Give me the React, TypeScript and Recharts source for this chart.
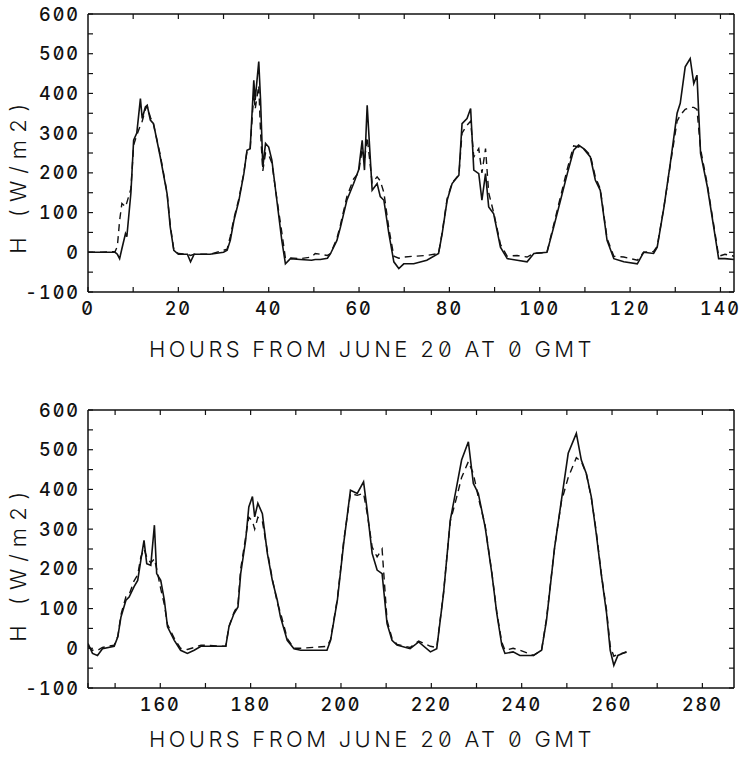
import { Label, Line, LineChart, XAxis, YAxis } from "recharts";

const FONT = "Inter, sans-serif";
const FONT_FEATURES = '"zero" 1, "tnum" 1';
const INK = "#111";

// hours from June 20 at 0 GMT, upper panel
const topHours = [
  0, 3, 6, 6.5, 7, 7.5, 8.3, 8.6, 9.5, 10.1, 10.8, 11.6, 12, 12.7, 13.1, 13.8, 14.5, 16, 17.5, 18.2, 19, 20, 22,
  22.7, 23.5, 27, 30, 30.8, 31.5, 32.3, 33.4, 34.5, 35.2, 35.9, 36.7, 37, 37.8, 38.2, 38.7, 39.3, 40, 40.7, 41.8,
  42.9, 43.7, 44.8, 47, 49.5, 50.3, 51.4, 53, 53.7, 55.1, 55.9, 57.3, 58.8, 59.9, 60.7, 61.2, 61.8, 62.9, 64, 64.7,
  65.5, 66.6, 67.7, 68.8, 69.9, 72.1, 75, 77.6, 78.4, 79.5, 80.6, 82.1, 82.8, 83.9, 84.7, 85.4, 86.5, 87.2, 88,
  88.7, 89.8, 91.3, 92.8, 95, 97.2, 98.7, 101.6, 103.1, 104.6, 106.1, 107.5, 108.6, 109.7, 111.2, 112.3, 113.4,
  114.9, 116.4, 118.6, 121.6, 123, 125.2, 126, 127.5, 128.9, 130.4, 131.1, 132.2, 133.3, 134.1, 134.8, 135.6,
  137.1, 138.5, 139.6, 141, 143,
];
const topSolid = [
  0, 0, 0, -5, -16, 9, 47, 39, 150, 282, 300, 387, 337, 366, 370, 333, 324, 240, 148, 64, 5, -5, -5, -24, -5, -5, 0,
  5, 30, 80, 130, 198, 257, 261, 433, 383, 480, 383, 215, 274, 265, 232, 131, 30, -29, -16, -18, -20, -18, -18,
  -15, -3, 30, 64, 131, 173, 207, 282, 207, 370, 156, 173, 140, 131, 47, -24, -41, -29, -29, -20, -3, 47, 131,
  173, 194, 324, 337, 362, 207, 198, 131, 198, 114, 97, 13, -16, -20, -24, -3, 0, 64, 131, 198, 257, 270, 261,
  240, 182, 156, 30, -16, -24, -29, 0, -3, 13, 114, 224, 350, 375, 467, 488, 425, 446, 249, 165, 64, -16, -16,
  -18,
];
const topDashed = [
  0, 0, 2, 15, 80, 123, 114, 125, 160, 270, 295, 320, 330, 360, 368, 340, 322, 245, 150, 70, 5, -3, -5, -8, -5,
  -5, 5, 8, 40, 85, 135, 200, 255, 262, 400, 360, 420, 300, 205, 250, 245, 225, 135, 50, -15, -14, -16, -12, -3,
  -5, -8, -3, 35, 70, 140, 185, 200, 260, 230, 290, 175, 190, 180, 150, 60, -10, -15, -12, -10, -8, -3, 50, 135,
  175, 195, 300, 320, 330, 240, 261, 200, 261, 150, 100, 20, -10, -8, -12, -3, 0, 70, 140, 210, 268, 265, 262,
  245, 190, 160, 35, -10, -12, -20, 0, 2, 15, 115, 220, 330, 345, 360, 365, 365, 360, 260, 170, 70, -10, -5, -10,
];

// lower panel
const bottomHours = [
  144, 145, 146.1, 147.2, 149.8, 150.6, 151.3, 152.4, 153.1, 154.2, 155, 155.7, 156.4, 157, 157.9, 158.7, 159.2,
  160.1, 160.9, 161.6, 163.1, 164.5, 166, 167.5, 169, 174.5, 175.2, 176.3, 177.2, 177.8, 178.9, 179.6, 180.4,
  180.9, 181.6, 182.6, 183.7, 184.8, 185.9, 186.6, 188.1, 189.6, 191.1, 196.9, 197.7, 199.2, 200.6, 202.1, 203.6,
  205, 205.8, 206.9, 208, 209.1, 210.2, 211.3, 212.4, 215.3, 217.2, 219.8, 221.2, 222.7, 224.2, 225.6, 226.7,
  228.2, 229.3, 230.4, 231.9, 233.4, 234.5, 235.6, 236.3, 238.1, 239.6, 242.6, 244.4, 245.5, 247.3, 248.8, 250.3,
  252.1, 253.2, 254.3, 255.4, 256.5, 257.6, 258.8, 259.6, 260.4, 261.3, 263.2,
];
const bottomSolid = [
  12, -13, -18, -1, 5, 29, 79, 121, 129, 155, 171, 222, 272, 213, 209, 310, 188, 171, 121, 54, 20, -5, -13, -5, 5,
  5, 54, 87, 104, 188, 272, 356, 382, 331, 365, 339, 239, 171, 121, 79, 20, -1, -5, -5, 20, 121, 264, 398, 390,
  419, 348, 239, 197, 188, 62, 20, 8, -1, 16, -9, -1, 138, 323, 407, 474, 520, 415, 390, 306, 188, 87, 8, -13, -9,
  -18, -18, -5, 71, 255, 373, 491, 541, 474, 440, 382, 289, 188, 87, -5, -43, -18, -9,
];
const bottomDashed = [
  5, -5, -5, 2, 8, 30, 85, 130, 135, 170, 185, 230, 250, 230, 215, 225, 200, 150, 110, 60, 25, 0, -3, 2, 8, 5, 55,
  90, 110, 200, 280, 330, 320, 300, 330, 320, 245, 175, 115, 90, 25, 0, 0, 5, 22, 125, 270, 390, 385, 390, 340,
  255, 230, 250, 70, 25, 10, 2, 18, 5, 2, 140, 320, 380, 430, 470, 440, 380, 310, 190, 90, 15, -5, 0, -5, -18, -5,
  75, 255, 370, 430, 480, 470, 440, 380, 295, 190, 95, 5, -20, -15, -10,
];

const yTicks = [-100, -50, 0, 50, 100, 150, 200, 250, 300, 350, 400, 450, 500, 550, 600];
const topXTicks = [10, 20, 30, 40, 50, 60, 70, 80, 90, 100, 110, 120, 130, 140];
const topXLabels = [0, 20, 40, 60, 80, 100, 120, 140];
const bottomXTicks = [150, 160, 170, 180, 190, 200, 210, 220, 230, 240, 250, 260, 270, 280];
const bottomXLabels = [160, 180, 200, 220, 240, 260, 280];

const X_TITLE = "HOURS FROM JUNE 20 AT 0 GMT";
const Y_TITLE = "H (W/m2)";

const textStyle = { fontFeatureSettings: FONT_FEATURES };

function LeftTick({ x, y, payload }: any) {
  const v = payload.value;
  return (
    <g>
      <line x1={x + 8} x2={x + 13} y1={y} y2={y} stroke={INK} strokeWidth={1.2} />
      {v % 100 === 0 && (
        <text
          x={x}
          y={y}
          dy={6.5}
          textAnchor="end"
          fontFamily={FONT}
          fontSize={18}
          fontWeight={500}
          letterSpacing={2}
          fill={INK}
          style={textStyle}
        >
          {v}
        </text>
      )}
    </g>
  );
}

function RightTick({ x, y }: any) {
  return <line x1={x} x2={x - 5} y1={y} y2={y} stroke={INK} strokeWidth={1.2} />;
}

function TopTick({ x, y }: any) {
  return <line x1={x} x2={x} y1={y} y2={y + 5} stroke={INK} strokeWidth={1.2} />;
}

function makeBottomTick(labels: number[]) {
  return function BottomTick({ x, y, payload }: any) {
    return (
      <g>
        <line x1={x} x2={x} y1={y} y2={y - 5} stroke={INK} strokeWidth={1.2} />
        {labels.includes(payload.value) && (
          <text
            x={x}
            y={y}
            dy={23}
            textAnchor="middle"
            fontFamily={FONT}
            fontSize={18}
            fontWeight={500}
            letterSpacing={2}
            fill={INK}
            style={textStyle}
          >
            {payload.value}
          </text>
        )}
      </g>
    );
  };
}

function Panel({
  hours,
  solid,
  dashed,
  domain,
  xTicks,
  xLabels,
  height,
  titleDy,
  yTitleDy,
}: {
  hours: number[];
  solid: number[];
  dashed: number[];
  domain: [number, number];
  xTicks: number[];
  xLabels: number[];
  height: number;
  titleDy: number;
  yTitleDy: number;
}) {
  const data = hours.map((h, i) => ({ h, solid: solid[i], dashed: dashed[i] }));
  const BottomTick = makeBottomTick(xLabels);
  return (
    <LineChart width={741} height={height} data={data} margin={{ top: 13, right: 6, bottom: 0, left: 0 }}>
      <XAxis
        dataKey="h"
        type="number"
        domain={domain}
        ticks={[domain[0], ...xTicks]}
        interval={0}
        allowDataOverflow
        height={height - 14 - 278}
        tickSize={0}
        tickMargin={0}
        tick={<BottomTick />}
        axisLine={{ stroke: INK, strokeWidth: 1.5 }}
      >
        <Label
          content={({ viewBox }: any) => (
            <text
              x={372}
              y={viewBox.y + titleDy}
              textAnchor="middle"
              fontFamily={FONT}
              fontSize={22}
              fontWeight={300}
              letterSpacing={3.4}
              fill={INK}
              style={textStyle}
            >
              {X_TITLE}
            </text>
          )}
        />
      </XAxis>
      <XAxis
        xAxisId="top"
        orientation="top"
        dataKey="h"
        type="number"
        domain={domain}
        ticks={xTicks}
        interval={0}
        allowDataOverflow
        height={1}
        tickSize={0}
        tickMargin={0}
        tick={<TopTick />}
        axisLine={{ stroke: INK, strokeWidth: 1.5 }}
      />
      <YAxis
        type="number"
        domain={[-100, 600]}
        ticks={yTicks}
        interval={0}
        width={88}
        tickSize={0}
        tickMargin={8}
        tick={<LeftTick />}
        axisLine={{ stroke: INK, strokeWidth: 1.5 }}
      >
        <Label
          content={({ viewBox }: any) => {
            const cy = viewBox.y + viewBox.height / 2 + yTitleDy;
            return (
              <text
                x={18}
                y={cy}
                transform={`rotate(-90, 18, ${cy})`}
                dy={8}
                textAnchor="middle"
                fontFamily={FONT}
                fontSize={22}
                fontWeight={300}
                letterSpacing={7}
                fill={INK}
                style={textStyle}
              >
                {Y_TITLE}
              </text>
            );
          }}
        />
      </YAxis>
      <YAxis
        yAxisId="right"
        orientation="right"
        type="number"
        domain={[-100, 600]}
        ticks={yTicks}
        interval={0}
        width={1}
        tickSize={0}
        tickMargin={0}
        tick={<RightTick />}
        axisLine={{ stroke: INK, strokeWidth: 1.5 }}
      />
      <Line
        dataKey="dashed"
        stroke={INK}
        strokeWidth={1.4}
        strokeDasharray="7 5"
        dot={false}
        isAnimationActive={false}
      />
      <Line dataKey="solid" stroke={INK} strokeWidth={1.6} dot={false} isAnimationActive={false} />
      <Line
        dataKey="solid"
        xAxisId="top"
        yAxisId="right"
        stroke="none"
        dot={false}
        activeDot={false}
        legendType="none"
        isAnimationActive={false}
      />
    </LineChart>
  );
}

export default function App() {
  return (
    <div style={{ position: "absolute", left: 0, top: 0, width: 741, height: 766, background: "#fff" }}>
      <Panel
        hours={topHours}
        solid={topSolid}
        dashed={topDashed}
        domain={[0, 143]}
        xTicks={topXTicks}
        xLabels={topXLabels}
        height={362}
        titleDy={65}
        yTitleDy={22}
      />
      <div style={{ position: "absolute", left: 0, top: 396 }}>
        <Panel
          hours={bottomHours}
          solid={bottomSolid}
          dashed={bottomDashed}
          domain={[144, 287]}
          xTicks={bottomXTicks}
          xLabels={bottomXLabels}
          height={370}
          titleDy={59}
          yTitleDy={14}
        />
      </div>
    </div>
  );
}
